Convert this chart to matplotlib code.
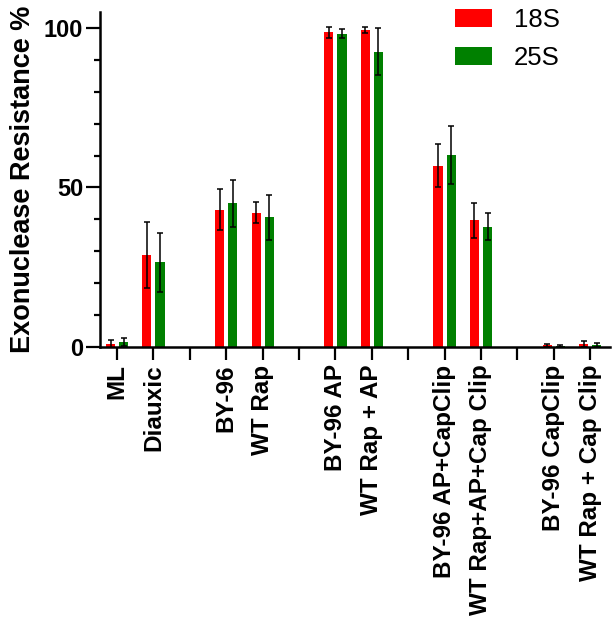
import matplotlib
matplotlib.use("Agg")
import matplotlib.pyplot as plt
from matplotlib.ticker import MultipleLocator
import numpy as np

categories = ["ML", "Diauxic", "BY-96", "WT Rap", "BY-96 AP", "WT Rap + AP",
              "BY-96 AP+CapClip", "WT Rap+AP+Cap Clip", "BY-96 CapClip", "WT Rap + Cap Clip"]
slots = [0, 1, 3, 4, 6, 7, 9, 10, 12, 13]
separators = [2, 5, 8, 11]
s18 = [1.0, 28.8, 43.1, 42.1, 98.7, 99.4, 56.8, 39.7, 0.5, 1.0]
s18_err = [1.2, 10.3, 6.4, 3.2, 1.7, 0.95, 6.8, 5.4, 0.6, 0.9]
s25 = [1.5, 26.5, 45.0, 40.6, 98.2, 92.6, 60.3, 37.7, 0.3, 0.6]
s25_err = [1.2, 9.3, 7.4, 6.9, 1.5, 7.5, 9.1, 4.2, 0.3, 0.6]
series_names = ["18S", "25S"]
colors = ["#FF0000", "#008000"]

plt.rcParams['font.family'] = ['Liberation Sans', 'DejaVu Sans']

fig = plt.figure(figsize=(6.12, 6.31), dpi=100)
ax = fig.add_axes([0.1634, 0.450, 0.833, 0.531])

x = np.array(slots, dtype=float)
off = 0.18
w = 0.25
ekw = dict(ecolor="black", elinewidth=1.1, capsize=2, capthick=1.1)
ax.bar(x - off, s18, width=w, color=colors[0], label=series_names[0],
       yerr=s18_err, error_kw=ekw, zorder=2)
ax.bar(x + off, s25, width=w, color=colors[1], label=series_names[1],
       yerr=s25_err, error_kw=ekw, zorder=2)

ax.set_xlim(-0.47, 13.54)
ax.set_ylim(0, 105)
ax.set_xticks(sorted(slots + separators))
labels = []
for s in sorted(slots + separators):
    labels.append(categories[slots.index(s)] if s in slots else "")
ax.set_xticklabels(labels, rotation=90, fontsize=17.5, fontweight="bold", va="top")

ax.yaxis.set_major_locator(MultipleLocator(50))
ax.yaxis.set_minor_locator(MultipleLocator(10))
for lab in ax.get_yticklabels():
    lab.set_fontweight("bold")
ax.tick_params(axis="y", which="major", labelsize=17, length=10, width=1.6, pad=2)
ax.tick_params(axis="y", which="minor", length=4.5, width=1.6)
ax.tick_params(axis="x", which="major", length=9.5, width=1.6, pad=3)

for sp in ["top", "right"]:
    ax.spines[sp].set_visible(False)
for sp in ["left", "bottom"]:
    ax.spines[sp].set_linewidth(1.8)

ax.set_ylabel("Exonuclease Resistance %", fontsize=19.5, fontweight="bold", labelpad=6)

leg = ax.legend(loc="upper left", bbox_to_anchor=(455 / 612, 1 - 8 / 631),
                bbox_transform=fig.transFigure, frameon=False, fontsize=18.5,
                handlelength=1.44, handleheight=0.68, handletextpad=0.85,
                labelspacing=0.55, borderpad=0, borderaxespad=0)

fig.savefig("out.png", dpi=100)
